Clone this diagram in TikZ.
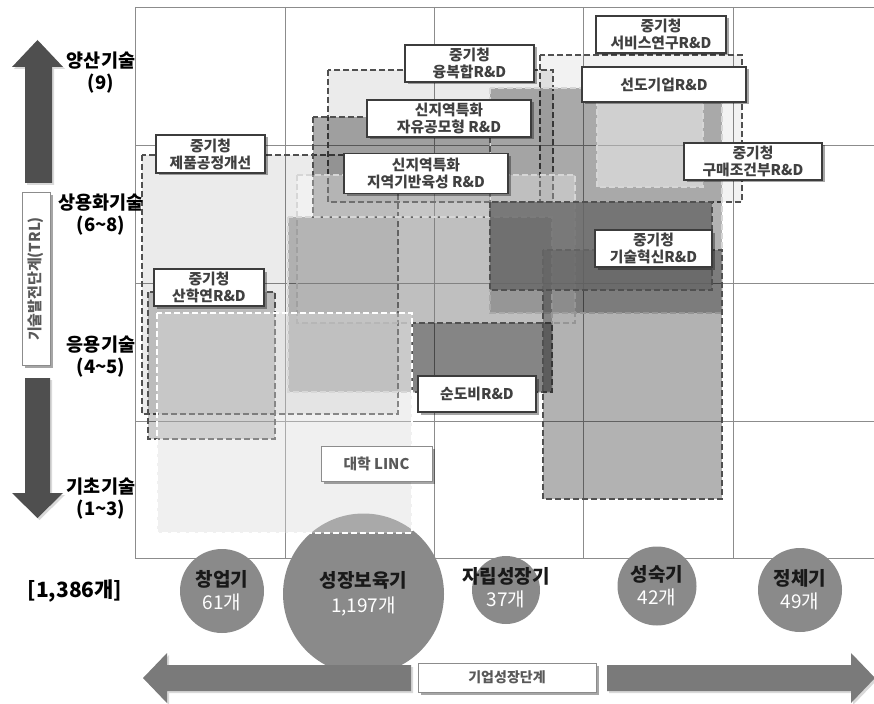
\documentclass[tikz,border=0pt]{standalone}
\usepackage{fontspec}
\setmainfont{Noto Sans CJK KR}
\usetikzlibrary{positioning,shadows}

\definecolor{gridln}{HTML}{8C8C8C}
\definecolor{boxline}{HTML}{3C3C3C}
\definecolor{labeltxt}{HTML}{404040}
\definecolor{zonedark}{HTML}{505050}
\definecolor{zonelight}{HTML}{D6D6D6}
\definecolor{zonedeep}{HTML}{686868}
\definecolor{arrowdark}{HTML}{4F4F4F}
\definecolor{arrowmid}{HTML}{7A7A7A}
\definecolor{circfill}{HTML}{8A8A8A}

\begin{document}
\begin{tikzpicture}[x=1pt,y=-1pt,
    gridline/.style={draw=gridln, line width=0.8pt},
    zone/.style={fill=black, dash pattern=on 6pt off 3pt, line width=2.1pt},
    prog/.style={draw=boxline, line width=1.5pt, fill=white, text=labeltxt,
      font=\bfseries\fontsize{14.8}{17}\selectfont, align=center, inner sep=1pt,
      drop shadow={shadow xshift=2.5pt, shadow yshift=-2.5pt, fill=black, opacity=0.35}},
    softbox/.style={prog, draw=gridln, line width=1pt, text=black!65},
    stagecirc/.style={circle, fill=circfill, inner sep=0pt},
    stagetxt/.style={align=center, font=\bfseries\fontsize{19}{23}\selectfont, text=black!90},
    axislbl/.style={align=center, font=\bfseries\fontsize{18.5}{22}\selectfont},
    blockarrow/.style={drop shadow={shadow xshift=2pt, shadow yshift=-2pt, opacity=0.3}}
  ]
  \useasboundingbox (0,0) rectangle (874,703);

  % Grid
  \foreach \gx in {135,285,434,583,733} \draw[gridline] (\gx,7) -- (\gx,558);
  \foreach \gy in {7,145,283,421,558} \draw[gridline] (135,\gy) -- (874,\gy);

  % Stage circles
  \node[stagecirc, minimum size=84pt] (cStart) at (222,591) {};
  \node[stagecirc, minimum size=161pt] (cIncub) at (363.5,594) {};
  \node[stagecirc, minimum size=68pt] (cGrow) at (506,590) {};
  \node[stagecirc, minimum size=79pt] (cMature) at (657,586) {};
  \node[stagecirc, minimum size=84pt] (cStag) at (800,590) {};

  % Program areas
  \draw[zone, draw=zonedark, fill opacity=.05] (540,55) rectangle (742,202);
  \draw[zone, draw=zonedark, fill opacity=.08] (328,70) rectangle (553,202);
  \draw[zone, draw=zonedark, fill opacity=.08] (142,155) rectangle (398,414);
  \draw[zone, draw=zonelight, fill opacity=.30] (490,88) rectangle (722,313);
  \draw[zone, draw=zonelight, fill=white, fill opacity=.45] (597,100) rectangle (703,187);
  \draw[zone, draw=zonedark, fill opacity=.32] (313,117) rectangle (490,217);
  \draw[zone, draw=zonelight, fill=white, fill opacity=.30] (297,175) rectangle (575,323);
  \draw[zone, draw=zonelight, fill opacity=.25] (288,217) rectangle (552,392);
  \draw[zone, draw=zonedark, fill opacity=.30] (412,323) rectangle (552,392);
  \draw[zone, draw=zonedark, fill opacity=.30] (543,250) rectangle (722,499);
  \draw[zone, draw=zonedark, fill=zonedeep, fill opacity=.82] (490,202) rectangle (712,290);
  \draw[zone, draw=zonedark, fill opacity=.20] (148,292) rectangle (275,439);
  \draw[zone, draw=white, fill=black!15, fill opacity=.40] (157,313) rectangle (412,533);

  % Program labels
  \node[prog, minimum width=109pt, minimum height=38pt] (lJepum) at (210.5,154) {중기청\\제품공정개선};
  \node[prog, minimum width=110pt, minimum height=37pt] (lSanhak) at (209,287.5) {중기청\\산학연R\&D};
  \node[prog, minimum width=129pt, minimum height=37pt] (lYong) at (469.5,63.5) {중기청\\융복합R\&D};
  \node[prog, minimum width=164pt, minimum height=37pt] (lJayu) at (449,118.5) {신지역특화\\자유공모형 R\&D};
  \node[prog, minimum width=164pt, minimum height=40pt] (lJiyeok) at (426,173.5) {신지역특화\\지역기반육성 R\&D};
  \node[prog, minimum width=130pt, minimum height=37pt] (lSvc) at (661,34.5) {중기청\\서비스연구R\&D};
  \node[prog, minimum width=164pt, minimum height=35pt] (lSundo) at (664,84.5) {선도기업R\&D};
  \node[prog, minimum width=138pt, minimum height=37pt] (lGumae) at (753,161.5) {중기청\\구매조건부R\&D};
  \node[prog, minimum width=117pt, minimum height=37pt] (lGisul) at (653.5,248.5) {중기청\\기술혁신R\&D};
  \node[prog, minimum width=118pt, minimum height=36pt] (lSundobi) at (477,394) {순도비R\&D};
  \node[softbox, minimum width=111pt, minimum height=35pt] (lLinc) at (376.5,463.5) {대학 LINC};

  % TRL axis
  \fill[arrowdark, blockarrow] (37.5,40) -- (63,67) -- (52,67) -- (52,183) -- (25,183) -- (25,67) -- (12,67) -- cycle;
  \fill[arrowdark, blockarrow] (37.5,518) -- (63,493) -- (50,493) -- (50,378) -- (25,378) -- (25,493) -- (12,493) -- cycle;
  \node[softbox, rotate=90, minimum width=172pt, minimum height=28pt, font=\bfseries\fontsize{15}{17}\selectfont] (lTrl) at (36,279) {기술발전단계(TRL)};
  \node[axislbl] (aMass) at (101,73) {양산기술\\(9)};
  \node[axislbl] (aComm) at (101,215) {상용화기술\\(6\textasciitilde8)};
  \node[axislbl] (aAppl) at (101,357) {응용기술\\(4\textasciitilde5)};
  \node[axislbl] (aBase) at (101,499) {기초기술\\(1\textasciitilde3)};

  % Growth stages
  \node[font=\bfseries\fontsize{21}{24}\selectfont] (total) at (75,591) {[1,386개]};
  \node[stagetxt] (tStart) at (cStart) {창업기\\{\color{white}\mdseries 61개}};
  \node[stagetxt] (tIncub) at (cIncub) {성장보육기\\[2pt]{\color{white}\mdseries 1,197개}};
  \node[stagetxt] (tGrow) at ([yshift=2pt]cGrow.center) {자립성장기\\{\color{white}\mdseries 37개}};
  \node[stagetxt] (tMature) at (cMature) {성숙기\\{\color{white}\mdseries 42개}};
  \node[stagetxt] (tStag) at (cStag) {정체기\\{\color{white}\mdseries 49개}};

  % Growth axis
  \fill[arrowmid, blockarrow] (143,678) -- (167,653) -- (167,665) -- (411,665) -- (411,691) -- (167,691) -- (167,703) -- cycle;
  \fill[arrowmid, blockarrow] (875,678) -- (851,653) -- (851,665) -- (607,665) -- (607,691) -- (851,691) -- (851,703) -- cycle;
  \node[softbox, minimum width=178pt, minimum height=29pt, font=\bfseries\fontsize{14}{16}\selectfont] (lStage) at (507,677.5) {기업성장단계};
\end{tikzpicture}
\end{document}
